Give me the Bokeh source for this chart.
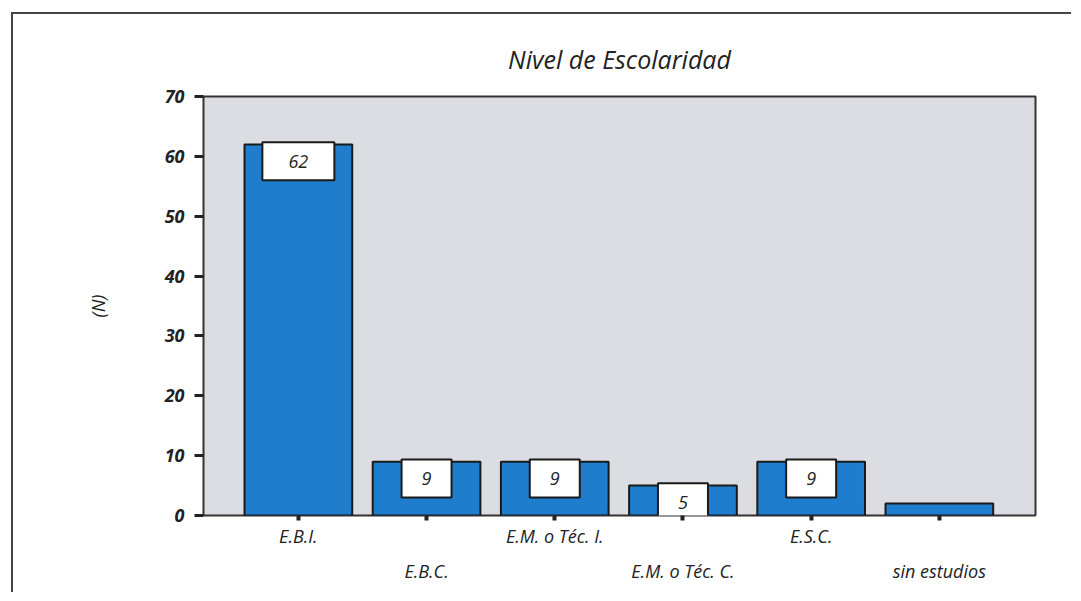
from bokeh.plotting import figure
from bokeh.models import Range1d, FixedTicker, LinearAxis, ColumnDataSource
from bokeh.core.properties import value
from bokeh.embed import file_html
from bokeh.resources import INLINE

categories = ["E.B.I.", "E.B.C.", "E.M. o Téc. I.", "E.M. o Téc. C.", "E.S.C.", "sin estudios"]
counts = [62, 9, 9, 5, 9, 2]
bar_labels = ["62", "9", "9", "5", "9", ""]
y_ticks = [0, 10, 20, 30, 40, 50, 60, 70]
title_text = "Nivel de Escolaridad"
y_label = "(N)"

xs = list(range(1, len(categories) + 1))

FONT = "Open Sans"
INK = "#222222"

p = figure(width=1060, height=580, output_backend="svg", toolbar_location=None,
           x_range=Range1d(0.26, 6.75), y_range=Range1d(0, 70),
           min_border_left=190, min_border_right=38, min_border_top=82, min_border_bottom=79)
p.styles = {"border-left": "2px solid #444", "border-top": "2px solid #444",
            "margin-left": "11px", "margin-top": "12px"}

p.background_fill_color = "#dcdde2"
p.border_fill_color = "white"
p.outline_line_color = "#333333"
p.outline_line_width = 2
p.grid.visible = False

p.title.text = title_text
p.title.align = "center"
p.title.text_font = FONT
p.title.text_font_style = "italic"
p.title.text_font_size = "25px"
p.title.text_color = INK
p.title.standoff = 42

p.vbar(x=xs, top=counts, width=0.84, fill_color="#1e7dcd", line_color="#1a1a1a", line_width=2)

# value boxes
lab_x = [x for x, t in zip(xs, bar_labels) if t]
lab_v = [v for v, t in zip(counts, bar_labels) if t]
lab_t = [t for t in bar_labels if t]
src = ColumnDataSource(dict(
    x=lab_x,
    y=[v - 2.8 for v in lab_v],
    w=[28 + 22 * len(t) for t in lab_t],
    t=lab_t,
))
p.rect(x="x", y="y", width="w", height=38, width_units="screen", height_units="screen",
       source=src, fill_color="white", line_color="#1a1a1a", line_width=2)
p.text(x="x", y="y", text="t", source=src, text_align="center", text_baseline="middle",
       text_font=value(FONT), text_font_style="italic", text_font_size="18px", text_color=INK)

# y axis
ya = p.yaxis[0]
ya.ticker = FixedTicker(ticks=y_ticks)
ya.axis_line_color = None
ya.minor_tick_line_color = None
ya.major_tick_in = 0
ya.major_tick_out = 9
ya.major_tick_line_width = 3
ya.major_tick_line_color = INK
ya.major_label_text_font = FONT
ya.major_label_text_font_style = "bold italic"
ya.major_label_text_font_size = "18px"
ya.major_label_text_color = INK
ya.major_label_standoff = 10
ya.axis_label = y_label
ya.axis_label_text_font = FONT
ya.axis_label_text_font_style = "italic"
ya.axis_label_text_font_size = "18px"
ya.axis_label_text_color = INK
ya.axis_label_standoff = 52

# x axis, first row (odd categories)
xa = p.xaxis[0]
xa.ticker = FixedTicker(ticks=xs)
xa.major_label_overrides = {x: (c if i % 2 == 0 else "") for i, (x, c) in enumerate(zip(xs, categories))}
xa.axis_line_color = None
xa.minor_tick_line_color = None
xa.major_tick_in = 0
xa.major_tick_out = 5
xa.major_tick_line_width = 4
xa.major_tick_line_color = INK
xa.major_label_text_font = FONT
xa.major_label_text_font_style = "italic"
xa.major_label_text_font_size = "18px"
xa.major_label_text_color = INK
xa.major_label_standoff = 3

# x axis, second row (even categories)
xb = LinearAxis(ticker=FixedTicker(ticks=xs[1::2]),
                major_label_overrides={x: c for x, c in zip(xs[1::2], categories[1::2])})
xb.axis_line_color = None
xb.minor_tick_line_color = None
xb.major_tick_line_color = None
xb.major_tick_in = 0
xb.major_tick_out = 0
xb.major_label_text_font = FONT
xb.major_label_text_font_style = "italic"
xb.major_label_text_font_size = "18px"
xb.major_label_text_color = INK
xb.major_label_standoff = 8
p.add_layout(xb, "below")

open("out.html", "w").write(file_html(p, INLINE))
